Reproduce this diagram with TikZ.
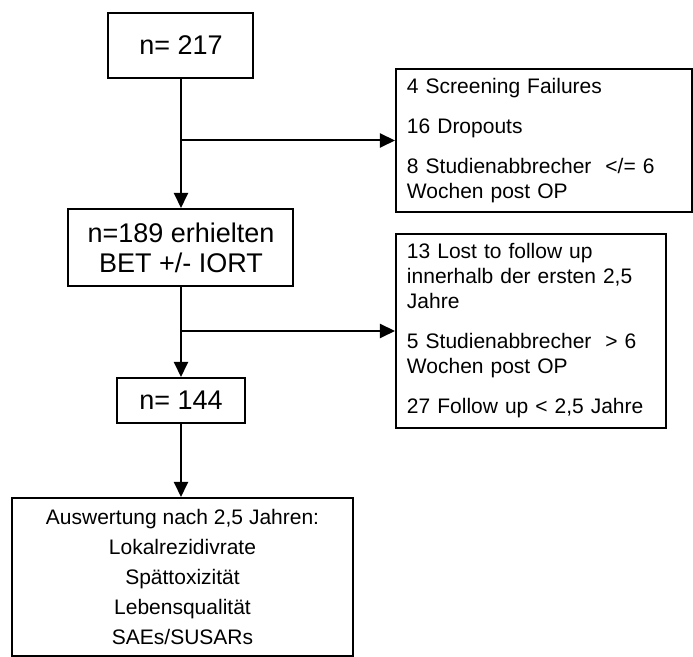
\documentclass[tikz,border=0pt]{standalone}
\usepackage{fontspec}
\setmainfont{Liberation Sans}
\usetikzlibrary{arrows.meta}
\begin{document}
\begin{tikzpicture}[x=0.5pt,y=-0.5pt]
    % Stile
    \tikzset{
        box/.style={rectangle, draw=black, line width=1pt, inner sep=0pt, align=center, font=\fontsize{13.5}{15}\selectfont},
        infobox/.style={rectangle, draw=black, line width=1pt, inner xsep=5.5pt, inner ysep=0pt, align=left, font=\fontsize{10.5}{12.5}\selectfont},
        evalbox/.style={rectangle, draw=black, line width=1pt, inner sep=0pt, align=center, font=\fontsize{10.5}{15}\selectfont},
        arrow/.style={-{Triangle[length=7.5pt,width=7pt]}, line width=1pt}
    }
    \useasboundingbox (0,0) rectangle (693,657);

    % Hauptpfad
    \node[box, minimum width=72.5pt, minimum height=32.5pt] (n217) at (181,45.5) {n= 217};
    \node[box, minimum width=112.5pt, minimum height=38.5pt] (n189) at (181,247.5) {n=189 erhielten\\BET +/- IORT};
    \node[box, minimum width=64pt, minimum height=22.5pt] (n144) at (181,400.5) {n= 144};
    \node[evalbox, minimum width=170.5pt, minimum height=79pt] (eval) at (182.5,577)
        {Auswertung nach 2,5 Jahren:\\Lokalrezidivrate\\Spättoxizität\\Lebensqualität\\SAEs/SUSARs};

    % Ausfälle
    \node[infobox, text width=137pt, minimum height=71.5pt] (drop1) at (544,140.5)
        {4 Screening Failures\\[7.5pt]16 Dropouts\\[7.5pt]8 Studienabbrecher \ </= 6\\Wochen post OP};
    \node[infobox, text width=124pt, minimum height=97pt] (drop2) at (531,331)
        {13 Lost to follow up\\innerhalb der ersten 2,5\\Jahre\\[7.5pt]5 Studienabbrecher \ > 6\\Wochen post OP\\[7.5pt]27 Follow up < 2,5 Jahre};

    % Pfeile
    \draw[arrow] (n217.south) -- (n189.north);
    \draw[arrow] (n217.south |- drop1.west) -- (drop1.west);
    \draw[arrow] (n189.south) -- (n144.north);
    \draw[arrow] (n189.south |- drop2.west) -- (drop2.west);
    \draw[arrow] (n144.south) -- (n144.south |- eval.north);
\end{tikzpicture}
\end{document}
